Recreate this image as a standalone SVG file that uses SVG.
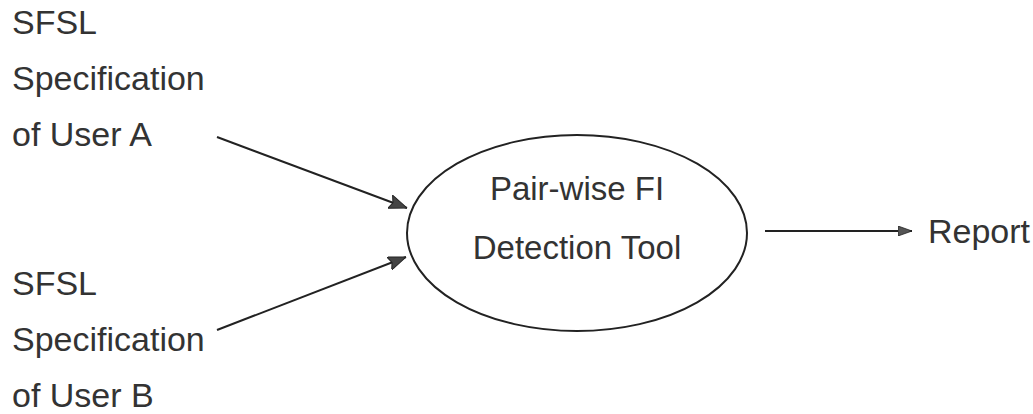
<svg xmlns="http://www.w3.org/2000/svg" width="1033" height="414" viewBox="0 0 1033 414">
<style>
  .t { font-family: "Liberation Sans", Arial, Helvetica, sans-serif; font-size: 34px; fill: #333; }
  .c { text-anchor: middle; font-size: 33px; }
  .edge { stroke: #222; stroke-width: 2; fill: none; }
  .node { stroke: #222; stroke-width: 2; fill: #fff; }
</style>
<defs>
  <marker id="ah" viewBox="0 0 18 14" refX="18" refY="7" markerWidth="18" markerHeight="14" markerUnits="userSpaceOnUse" orient="auto">
    <path d="M0,0 L18,7 L0,14 L3,7 Z" fill="#444" stroke="#222" stroke-width="1"/>
  </marker>
  <marker id="ahs" viewBox="0 0 14 10" refX="14" refY="5" markerWidth="14" markerHeight="10" markerUnits="userSpaceOnUse" orient="auto">
    <path d="M0,0 L14,5 L0,10 Z" fill="#555" stroke="#222" stroke-width="0.8"/>
  </marker>
</defs>
<rect width="1033" height="414" fill="#fff"/>
<g id="userA">
  <text class="t" x="12" y="34">SFSL</text>
  <text class="t" x="12" y="90">Specification</text>
  <text class="t" x="12" y="146">of User A</text>
</g>
<g id="userB">
  <text class="t" x="12" y="295">SFSL</text>
  <text class="t" x="12" y="351">Specification</text>
  <text class="t" x="12" y="407">of User B</text>
</g>
<g id="tool">
  <ellipse class="node" cx="577" cy="233" rx="170" ry="98"/>
  <text class="t c" x="577" y="200">Pair-wise FI</text>
  <text class="t c" x="577" y="259">Detection Tool</text>
</g>
<g id="report">
  <text class="t" x="928" y="243">Report</text>
</g>
<g id="connectors">
  <line class="edge" x1="217" y1="137" x2="407" y2="208" marker-end="url(#ah)"/>
  <line class="edge" x1="217" y1="330" x2="406" y2="257" marker-end="url(#ah)"/>
  <line class="edge" x1="765" y1="231" x2="912" y2="231" marker-end="url(#ahs)"/>
</g>
</svg>
